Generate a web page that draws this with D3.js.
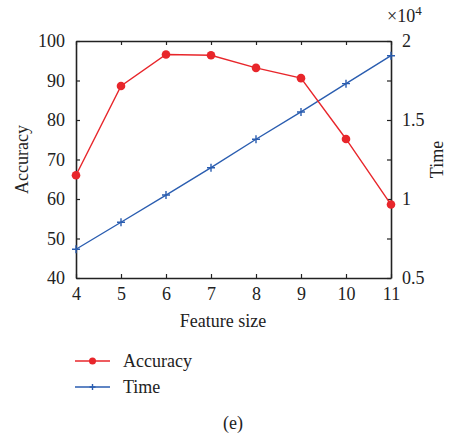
<!DOCTYPE html>
<html>
<head>
<meta charset="utf-8">
<script src="https://cdn.jsdelivr.net/npm/d3@7"></script>
<style>
  html, body { margin: 0; padding: 0; background: #fff; }
  svg { display: block; }
</style>
</head>
<body>
<div id="chart"></div>
<script>
const featureSizes = [4, 5, 6, 7, 8, 9, 10, 11];
const accuracy = [66, 88.6, 96.6, 96.4, 93.2, 90.6, 75.2, 58.6];
const timeValues = [6820, 8530, 10250, 11980, 13780, 15510, 17300, 19070];
const leftTicks = [40, 50, 60, 70, 80, 90, 100];
const rightTicks = [5000, 7500, 10000, 12500, 15000, 17500, 20000];
const rightTickLabels = ['0.5', '', '1', '', '1.5', '', '2'];

const width = 453, height = 438;
const margin = { top: 41, right: 62, bottom: 160, left: 76 };
const innerWidth = width - margin.left - margin.right;
const innerHeight = height - margin.top - margin.bottom;

const red = '#e8262b', blue = '#2a5db0', ink = '#222';
const serif = 'Liberation Serif';

const svg = d3.select('#chart').append('svg')
  .attr('width', width)
  .attr('height', height)
  .attr('font-family', serif);

const g = svg.append('g')
  .attr('transform', `translate(${margin.left},${margin.top})`);

const x = d3.scaleLinear().domain([4, 11]).range([0, innerWidth]);
const yL = d3.scaleLinear().domain([40, 100]).range([innerHeight, 0]);
const yR = d3.scaleLinear().domain([5000, 20000]).range([innerHeight, 0]);

// Axes, ticks pointing inward
const styleAxis = sel => {
  sel.attr('font-family', serif).attr('font-size', 18);
  sel.select('.domain').attr('stroke', ink).attr('stroke-width', 1.6);
  sel.selectAll('.tick line').attr('stroke', ink).attr('stroke-width', 1.2);
  sel.selectAll('.tick text').attr('fill', ink);
};

g.append('g')
  .attr('transform', `translate(0,${innerHeight})`)
  .call(d3.axisBottom(x).tickValues(featureSizes).tickFormat(d3.format('d'))
    .tickSizeInner(-4).tickSizeOuter(0).tickPadding(9))
  .call(styleAxis);

g.append('g')
  .call(d3.axisTop(x).tickValues(featureSizes).tickFormat('')
    .tickSizeInner(-4).tickSizeOuter(0))
  .call(styleAxis);

g.append('g')
  .call(d3.axisLeft(yL).tickValues(leftTicks).tickFormat(d3.format('d'))
    .tickSizeInner(-4).tickSizeOuter(0).tickPadding(11))
  .call(styleAxis);

g.append('g')
  .attr('transform', `translate(${innerWidth},0)`)
  .call(d3.axisRight(yR).tickValues(rightTicks)
    .tickFormat((d, i) => rightTickLabels[i])
    .tickSizeInner(-4).tickSizeOuter(0).tickPadding(11))
  .call(styleAxis);

// Series
const accData = featureSizes.map((f, i) => ({ f, v: accuracy[i] }));
const timeData = featureSizes.map((f, i) => ({ f, v: timeValues[i] }));

g.append('path')
  .datum(timeData)
  .attr('fill', 'none')
  .attr('stroke', blue)
  .attr('stroke-width', 1.4)
  .attr('d', d3.line().x(d => x(d.f)).y(d => yR(d.v)));

g.selectAll('.plus')
  .data(timeData)
  .enter().append('path')
  .attr('transform', d => `translate(${x(d.f)},${yR(d.v)})`)
  .attr('d', 'M-4,0H4M0,-4V4')
  .attr('stroke', blue)
  .attr('stroke-width', 1.4);

g.append('path')
  .datum(accData)
  .attr('fill', 'none')
  .attr('stroke', red)
  .attr('stroke-width', 1.4)
  .attr('d', d3.line().x(d => x(d.f)).y(d => yL(d.v)));

g.selectAll('.dot')
  .data(accData)
  .enter().append('circle')
  .attr('cx', d => x(d.f))
  .attr('cy', d => yL(d.v))
  .attr('r', 4.3)
  .attr('fill', red);

// Titles
svg.append('text')
  .attr('transform', `translate(28,${margin.top + innerHeight / 2}) rotate(-90)`)
  .attr('text-anchor', 'middle')
  .attr('font-size', 18)
  .attr('fill', ink)
  .text('Accuracy');

svg.append('text')
  .attr('transform', `translate(443,${margin.top + innerHeight / 2}) rotate(-90)`)
  .attr('text-anchor', 'middle')
  .attr('font-size', 18)
  .attr('fill', ink)
  .text('Time');

svg.append('text')
  .attr('x', 223)
  .attr('y', 327)
  .attr('text-anchor', 'middle')
  .attr('font-size', 18)
  .attr('fill', ink)
  .text('Feature size');

const mult = svg.append('text')
  .attr('x', 387)
  .attr('y', 22)
  .attr('font-size', 18)
  .attr('fill', ink);
mult.append('tspan').text('×10');
mult.append('tspan').attr('dy', -7).attr('font-size', 13).text('4');

// Legend
const legend = svg.append('g').attr('transform', 'translate(75,0)');
const items = [
  { name: 'Accuracy', color: red, y: 361, marker: 'circle' },
  { name: 'Time', color: blue, y: 387, marker: 'plus' }
];
items.forEach(it => {
  legend.append('line')
    .attr('x1', 0).attr('x2', 35)
    .attr('y1', it.y).attr('y2', it.y)
    .attr('stroke', it.color).attr('stroke-width', 1.4);
  if (it.marker === 'circle') {
    legend.append('circle').attr('cx', 17.5).attr('cy', it.y).attr('r', 3.5).attr('fill', it.color);
  } else {
    legend.append('path').attr('transform', `translate(17.5,${it.y})`)
      .attr('d', 'M-3,0H3M0,-3V3').attr('stroke', it.color).attr('stroke-width', 1.4);
  }
  legend.append('text')
    .attr('x', 48).attr('y', it.y + 6)
    .attr('font-size', 18)
    .attr('fill', ink)
    .text(it.name);
});

svg.append('text')
  .attr('x', 233)
  .attr('y', 429)
  .attr('text-anchor', 'middle')
  .attr('font-size', 18)
  .attr('fill', ink)
  .text('(e)');
</script>
</body>
</html>
